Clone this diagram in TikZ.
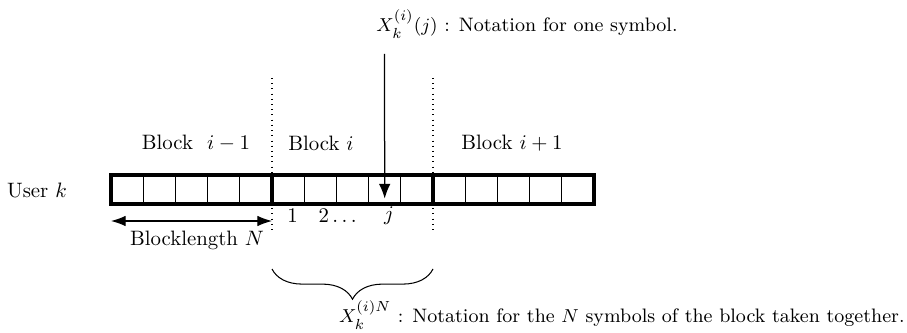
\documentclass[tikz,border=0pt]{standalone}
\usetikzlibrary{arrows.meta,decorations.pathreplacing}
\begin{document}
\begin{tikzpicture}[x=0.48pt,y=-0.48pt,
  cell/.style={draw,line width=0.5pt,minimum width=15.46pt,minimum height=13.9pt,inner sep=0pt,outer sep=0pt},
  blockbox/.style={draw,line width=1.8pt},
  sep/.style={dotted,line width=0.5pt},
  lbl/.style={inner sep=1pt},
  note/.style={inner sep=0pt,anchor=west,font=\fontsize{9.35}{11.5}\selectfont}]
\useasboundingbox (0,0) rectangle (907,333);
% cells
\foreach \i in {1,...,15}{
  \node[cell] (c\i) at ({111+32.2*(\i-0.5)},189.5) {};
}
\draw[blockbox] (c1.north west) rectangle (c5.south east);
\draw[blockbox] (c6.north west) rectangle (c10.south east);
\draw[blockbox] (c11.north west) rectangle (c15.south east);
% dotted separators
\coordinate (d1t) at (272,78); \coordinate (d1b) at (272,233);
\coordinate (d2t) at (433,78); \coordinate (d2b) at (433,233);
\draw[sep] (d1t) -- (d1b);
\draw[sep] (d2t) -- (d2b);
% labels
\node[lbl] (ul) at (37,190) {User $k$};
\node[lbl] (b0) at (196,143) {Block~~$i-1$};
\node[lbl] (b1) at (321,143) {Block $i$};
\node[lbl] (b2) at (512,143) {Block $i+1$};
\node[lbl] (n1) at (292.5,216) {$1$};
\node[lbl,anchor=west] (n2) at (316,216) {$2\ldots$};
\node[lbl] (nj) at (389,216) {$j$};
% top arrow
\node[note] (top) at (376,24) {$X_k^{(i)}(j)$ : Notation for one symbol.};
\coordinate (at) at (384.5,54);
\draw[line width=0.6pt,-{Latex[length=7pt,width=5.5pt]}] (at) -- ([yshift=2.6pt]c9.south);
% blocklength arrow
\coordinate (bl) at (111,221); \coordinate (br) at (272,221);
\draw[line width=0.5pt,{Latex[length=7pt,width=5pt]}-{Latex[length=7pt,width=5pt]}] (bl) -- (br);
\node[lbl] (blen) at (197,240) {Blocklength $N$};
% brace
\coordinate (brl) at (272,269); \coordinate (brr) at (433,269);
\draw[line width=0.5pt,decorate,decoration={brace,mirror,amplitude=14.5pt,aspect=0.5}] (brl) -- (brr);
\node[note,anchor=east] (bot) at (905,315) {$X_k^{(i)N}$ : Notation for the $N$ symbols of the block taken together.};
\end{tikzpicture}
\end{document}
